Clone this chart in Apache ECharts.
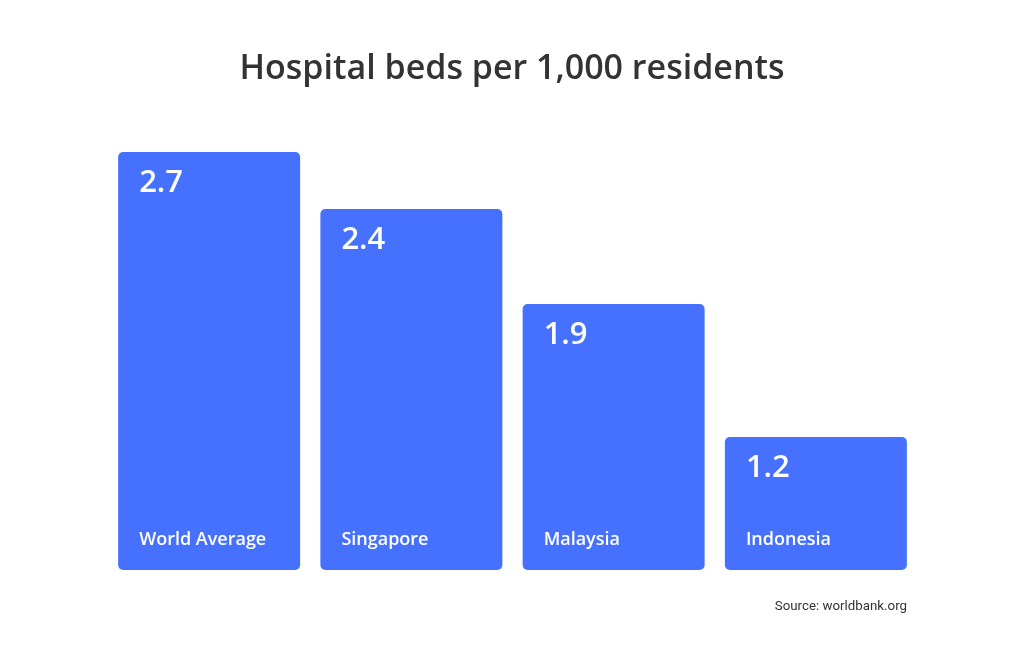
<!DOCTYPE html>
<html>
<head>
<meta charset="utf-8">
<script src="https://cdn.jsdelivr.net/npm/echarts@6/dist/echarts.min.js"></script>
<style>html,body{margin:0;padding:0;background:#fff;}#c{width:1024px;height:656px;}</style>
</head>
<body>
<div id="c"></div>
<script>
const categories = ['World Average', 'Singapore', 'Malaysia', 'Indonesia'];
const values = [2.7, 2.4, 1.9, 1.2];
const titleText = 'Hospital beds per 1,000 residents';
const sourceText = 'Source: worldbank.org';

const chart = echarts.init(document.getElementById('c'));
const barColor = '#4671FF';
chart.setOption({
  backgroundColor: '#ffffff',
  animation: false,
  title: {
    text: titleText,
    left: 'center',
    top: 47,
    textStyle: { fontFamily: 'Open Sans', fontWeight: 600, fontSize: 34, color: '#333333' }
  },
  graphic: [{
    type: 'text',
    right: 117,
    top: 600,
    style: { text: sourceText, font: '13.3px Roboto', fill: '#333333' }
  }],
  grid: { left: 108, right: 107, top: 95, bottom: 86 },
  xAxis: {
    type: 'category',
    data: categories,
    axisLine: { show: false }, axisTick: { show: false }, axisLabel: { show: false }
  },
  yAxis: {
    type: 'value', min: 0.5, max: 3,
    show: false, splitLine: { show: false }
  },
  series: [{
    type: 'bar',
    data: values,
    barWidth: 182,
    itemStyle: { color: barColor, borderRadius: 5 },
    label: {
      show: true,
      position: [21, 16],
      color: '#ffffff',
      fontFamily: 'Open Sans', fontWeight: 600, fontSize: 31,
      formatter: p => p.value.toFixed(1)
    }
  }, {
    type: 'bar',
    data: values,
    barWidth: 182,
    barGap: '-100%',
    itemStyle: { color: 'rgba(0,0,0,0)' },
    silent: true,
    label: {
      show: true,
      position: 'insideBottomLeft',
      distance: 21,
      color: '#ffffff',
      fontFamily: 'Open Sans', fontWeight: 600, fontSize: 18,
      formatter: p => p.name
    }
  }]
});
</script>
</body>
</html>
